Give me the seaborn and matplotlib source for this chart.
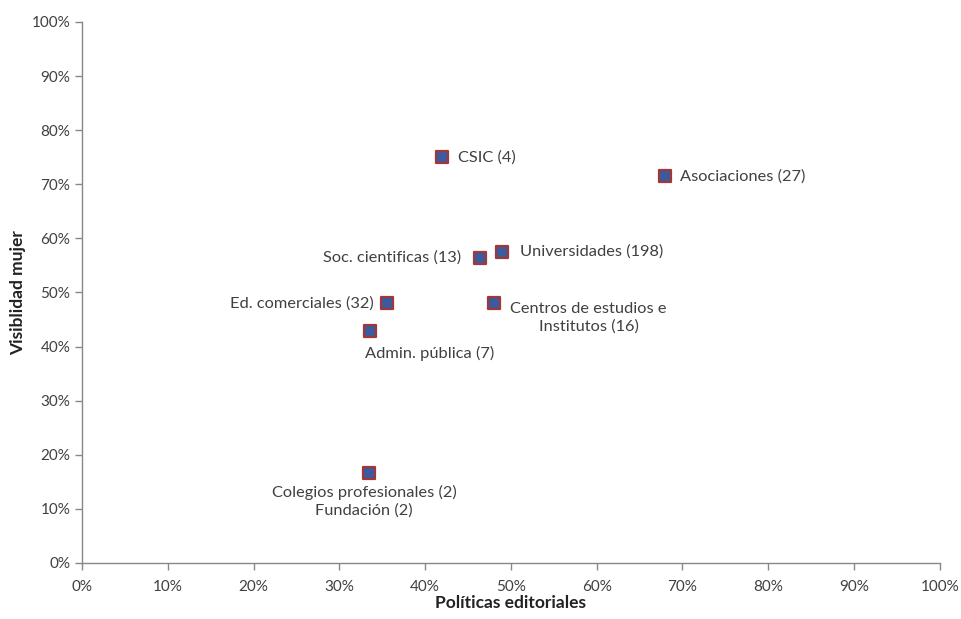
import pandas as pd
import seaborn as sns
import matplotlib.pyplot as plt
from matplotlib.ticker import PercentFormatter

grupos = ["CSIC (4)", "Asociaciones (27)", "Soc. cientificas (13)", "Universidades (198)",
          "Ed. comerciales (32)", "Centros de estudios e\nInstitutos (16)", "Admin. pública (7)",
          "Colegios profesionales (2)\nFundación (2)"]
politicas = [42.0, 68.0, 46.4, 49.0, 35.6, 48.0, 33.6, 33.5]
visibilidad = [75.0, 71.5, 56.4, 57.5, 48.0, 48.0, 42.9, 16.7]

df = pd.DataFrame({"grupo": grupos, "politicas": politicas, "visibilidad": visibilidad})

# label placement: (dx px, dy px, ha)
etiquetas = {
    "CSIC (4)": (16, 0, "left"),
    "Asociaciones (27)": (15, 0, "left"),
    "Soc. cientificas (13)": (-19, 0, "right"),
    "Universidades (198)": (18, 0, "left"),
    "Ed. comerciales (32)": (-14, 0, "right"),
    "Centros de estudios e\nInstitutos (16)": (95, -15, "center"),
    "Admin. pública (7)": (59, -23, "center"),
    "Colegios profesionales (2)\nFundación (2)": (-5, -29, "center"),
}

sns.set_style("white")
plt.rcParams["font.family"] = ["Lato", "DejaVu Sans"]

fig = plt.figure(figsize=(9.61, 6.19), dpi=100)
ax = fig.add_axes([0.0853, 0.0905, 0.8925, 0.874])

sns.scatterplot(data=df, x="politicas", y="visibilidad", marker="s", s=85,
                color="#3C5A9E", edgecolor="#A0383A", linewidth=1.6, ax=ax, zorder=3)

for g, xv, yv in zip(grupos, politicas, visibilidad):
    dx, dy, ha = etiquetas[g]
    ax.annotate(g, (xv, yv), xytext=(dx, dy), textcoords="offset pixels",
                ha=ha, va="center", fontsize=11.8, color="#404040", multialignment="center",
                linespacing=1.3)

ax.set_xlim(0, 100)
ax.set_ylim(0, 100)
ax.set_xticks(range(0, 101, 10))
ax.set_yticks(range(0, 101, 10))
ax.xaxis.set_major_formatter(PercentFormatter(decimals=0))
ax.yaxis.set_major_formatter(PercentFormatter(decimals=0))
ax.tick_params(axis="both", which="major", direction="out", length=5, width=1,
               color="#888888", labelsize=11, labelcolor="#404040", left=True, bottom=True)
ax.tick_params(axis="x", pad=7)
for side in ["top", "right"]:
    ax.spines[side].set_visible(False)
for side in ["left", "bottom"]:
    ax.spines[side].set_color("#888888")
    ax.spines[side].set_linewidth(1)

ax.set_xlabel("Políticas editoriales", fontsize=12.5, fontweight="bold", color="#222222", labelpad=1)
ax.set_ylabel("Visiblidad mujer", fontsize=12.5, fontweight="bold", color="#222222", labelpad=4)

fig.savefig("out.png", dpi=100)
